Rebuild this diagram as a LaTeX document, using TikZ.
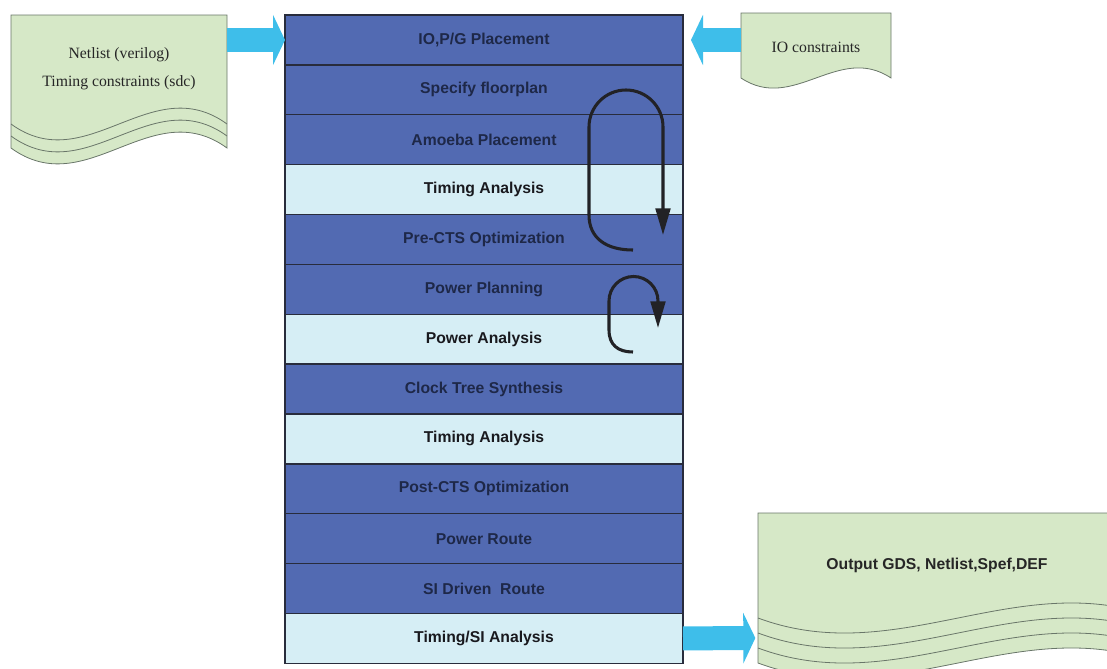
\documentclass[tikz,border=0pt]{standalone}
\usepackage{fontspec}
\setmainfont{Liberation Serif}
\setsansfont{Liberation Sans}
\usetikzlibrary{positioning,arrows.meta}

\definecolor{stagedark}{RGB}{82,106,178}
\definecolor{checklight}{RGB}{214,238,245}
\definecolor{stagetext}{RGB}{30,40,72}
\definecolor{checktext}{RGB}{25,25,30}
\definecolor{rowline}{RGB}{40,44,60}
\definecolor{docgreen}{RGB}{214,232,199}
\definecolor{docgray}{RGB}{105,118,105}
\definecolor{arrowcyan}{RGB}{62,190,234}
\definecolor{loopgray}{RGB}{34,34,38}

\newcommand\rowfont{\sffamily\bfseries\fontsize{11.8}{14}\selectfont}

\begin{document}
\begin{tikzpicture}[x=0.75pt,y=-0.75pt,
  stage/.style={draw=rowline,line width=1pt,fill=stagedark,text=stagetext,
    minimum width=298.5pt,minimum height=37.4pt,inner sep=0pt,outer sep=0pt,font=\rowfont},
  check/.style={stage,fill=checklight,text=checktext},
  docpage/.style={fill=docgreen,draw=docgray,line width=0.6pt},
  docline/.style={draw=docgray,line width=0.6pt},
  doctext/.style={align=center,text=black!85,font=\fontsize{11.8}{21}\selectfont},
  outtext/.style={text=black!85,font=\rowfont},
  flowarrow/.style={arrowcyan,line width=18pt,-{Triangle[length=9pt,width=37.5pt]}},
  loopline/.style={loopgray,line width=2.3pt,-{Triangle[length=20pt,width=11pt]}}]
  \useasboundingbox (0,0) rectangle (1107,668);
  \clip (0,0) rectangle (1107,668);

  % input pages
  \path[docpage] (11,15) -- (227,15) -- (227,148) .. controls (151.4,93) and (86.6,203) .. (11,148) -- cycle;
  \draw[docline] (11,124) .. controls (86.6,179) and (151.4,69) .. (227,124);
  \draw[docline] (11,136) .. controls (86.6,191) and (151.4,81) .. (227,136);
  \node[doctext] (netlist) at (119,69) {Netlist (verilog)\\Timing constraints (sdc)};
  \path[docpage] (741,13) -- (891,13) -- (891,78) .. controls (838.5,43) and (793.5,113) .. (741,78) -- cycle;
  \node[doctext] (ioc) at (816,47) {IO constraints};

  % output pages
  \path[docpage] (758,513) -- (1158,513) -- (1158,663) .. controls (1018,611) and (898,715) .. (758,663) -- cycle;
  \draw[docline] (758,618) .. controls (898,670) and (1018,566) .. (1158,618);
  \draw[docline] (758,633) .. controls (898,685) and (1018,581) .. (1158,633);
  \draw[docline] (758,648) .. controls (898,700) and (1018,596) .. (1158,648);
  \node[outtext] (gds) at (937,565) {Output GDS, Netlist,Spef,DEF};

  % flow
  \node[stage] (r1) at (484,40) {IO,P/G Placement};
  \node[stage,below=0pt of r1] (r2) {Specify floorplan};
  \node[stage,below=0pt of r2] (r3) {Amoeba Placement};
  \node[check,below=0pt of r3] (r4) {Timing Analysis};
  \node[stage,below=0pt of r4] (r5) {Pre-CTS Optimization};
  \node[stage,below=0pt of r5] (r6) {Power Planning};
  \node[check,below=0pt of r6] (r7) {Power Analysis};
  \node[stage,below=0pt of r7] (r8) {Clock Tree Synthesis};
  \node[check,below=0pt of r8] (r9) {Timing Analysis};
  \node[stage,below=0pt of r9] (r10) {Post-CTS Optimization};
  \node[stage,below=0pt of r10] (r11) {Power Route};
  \node[stage,below=0pt of r11] (r12) {SI Driven\ \ Route};
  \node[check,below=0pt of r12] (r13) {Timing/SI Analysis};

  % block arrows
  \coordinate (netlist-out) at (227,40);
  \coordinate (ioc-out) at (741,40);
  \coordinate (gds-in) at (758,638);
  \draw[flowarrow] (netlist-out) -- (r1.west);
  \draw[flowarrow,shorten >=6pt] (ioc-out) -- (r1.east);
  \draw[flowarrow,shorten >=2pt] (r13.east) -- (gds-in);

  % iteration loops
  \draw[loopline] (633,250) .. controls (606,250) and (589,238) .. (589,215) -- (589,127)
    arc[start angle=180,end angle=360,radius=37] -- (663,235);
  \draw[loopline] (633,352) .. controls (618,352) and (609,345) .. (609,330) -- (609,301)
    arc[start angle=180,end angle=360,radius=24.5] -- (658,328);
\end{tikzpicture}
\end{document}
